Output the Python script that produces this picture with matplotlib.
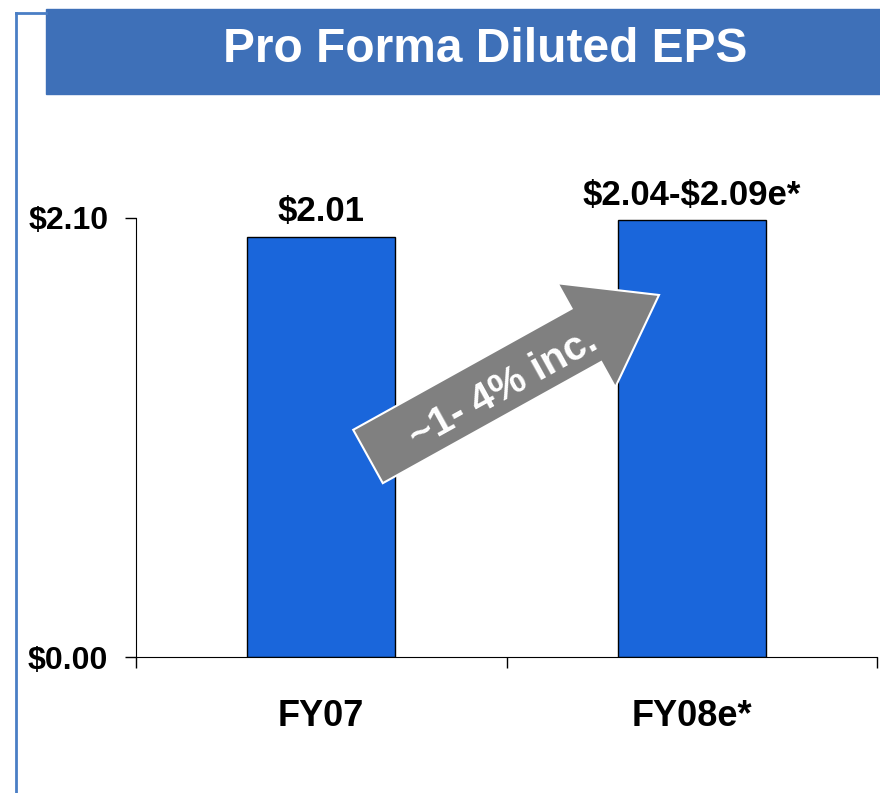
import matplotlib.pyplot as plt
from matplotlib.patches import FancyArrow, Rectangle
from matplotlib.lines import Line2D

plt.rcParams['font.family'] = ['Liberation Sans', 'DejaVu Sans']
plt.rcParams['text.parse_math'] = False

# data
categories = ["FY07", "FY08e*"]
eps_values = [2.01, 2.09]
bar_labels = ["$2.01", "$2.04-$2.09e*"]
ytick_values = [0.0, 2.10]
ytick_labels = ["$0.00", "$2.10"]
title = "Pro Forma Diluted EPS"
arrow_text = "~1- 4% inc."

BAR_COLOR = "#1A66DB"
BANNER_COLOR = "#3E70B8"
FRAME_COLOR = "#4A7EC5"

W, H = 880, 793
fig = plt.figure(figsize=(W / 100, H / 100), dpi=100)


def px(x, y):
    # image pixel -> figure fraction
    return x / W, 1 - y / H


# left frame line and banner
fig.add_artist(Line2D([16 / W, 16 / W], [0, px(0, 13)[1]], color=FRAME_COLOR, lw=2))
fig.add_artist(Line2D([16 / W, 46 / W], [px(0, 13)[1]] * 2, color=FRAME_COLOR, lw=2))
fig.add_artist(Rectangle(px(46, 94), (W - 46) / W, 85 / H, color=BANNER_COLOR,
                         transform=fig.transFigure))
fig.text(*px(485, 50), title, color="white", fontsize=34.5, fontweight="bold",
         ha="center", va="center")

# axes
l, b = px(136, 657)
r, t = px(877, 218)
ax = fig.add_axes([l, b, r - l, t - b])
x = list(range(len(categories)))
ax.bar(x, eps_values, width=0.4, color=BAR_COLOR, edgecolor="black", linewidth=1)
ax.set_xlim(-0.5, 1.5)
ax.set_ylim(0, 2.10)

for xi, v, lab in zip(x, eps_values, bar_labels):
    ax.annotate(lab, (xi, v), xytext=(0, 6), textcoords="offset points",
                ha="center", va="bottom", fontsize=25, fontweight="bold")

ax.spines["top"].set_visible(False)
ax.spines["right"].set_visible(False)
ax.set_yticks(ytick_values)
ax.set_yticklabels(ytick_labels, fontsize=23, fontweight="bold")
ax.tick_params(axis="y", direction="out", length=8, width=1, pad=12)

ax.set_xticks([-0.5, 0.5, 1.5])
ax.set_xticklabels([])
ax.tick_params(axis="x", which="major", direction="out", length=8, width=1)
ax.set_xticks(x, minor=True)
ax.set_xticklabels(categories, minor=True, fontsize=26, fontweight="bold")
ax.tick_params(axis="x", which="minor", length=0, pad=30)

# growth arrow (image pixels -> inches)
tx, ty = 368, 456.5
tipx, tipy = 659, 295
arrow = FancyArrow(tx / 100, (H - ty) / 100, (tipx - tx) / 100, (ty - tipy) / 100,
                   width=0.61, head_width=1.19, head_length=0.83,
                   length_includes_head=True, facecolor="#808080",
                   edgecolor="white", linewidth=1.5,
                   transform=fig.dpi_scale_trans)
fig.add_artist(arrow)
fig.text(*px(503, 389), arrow_text, color="white", fontsize=29, fontweight="bold",
         ha="center", va="center", rotation=29, rotation_mode="anchor")

fig.savefig("out.png", dpi=100)
